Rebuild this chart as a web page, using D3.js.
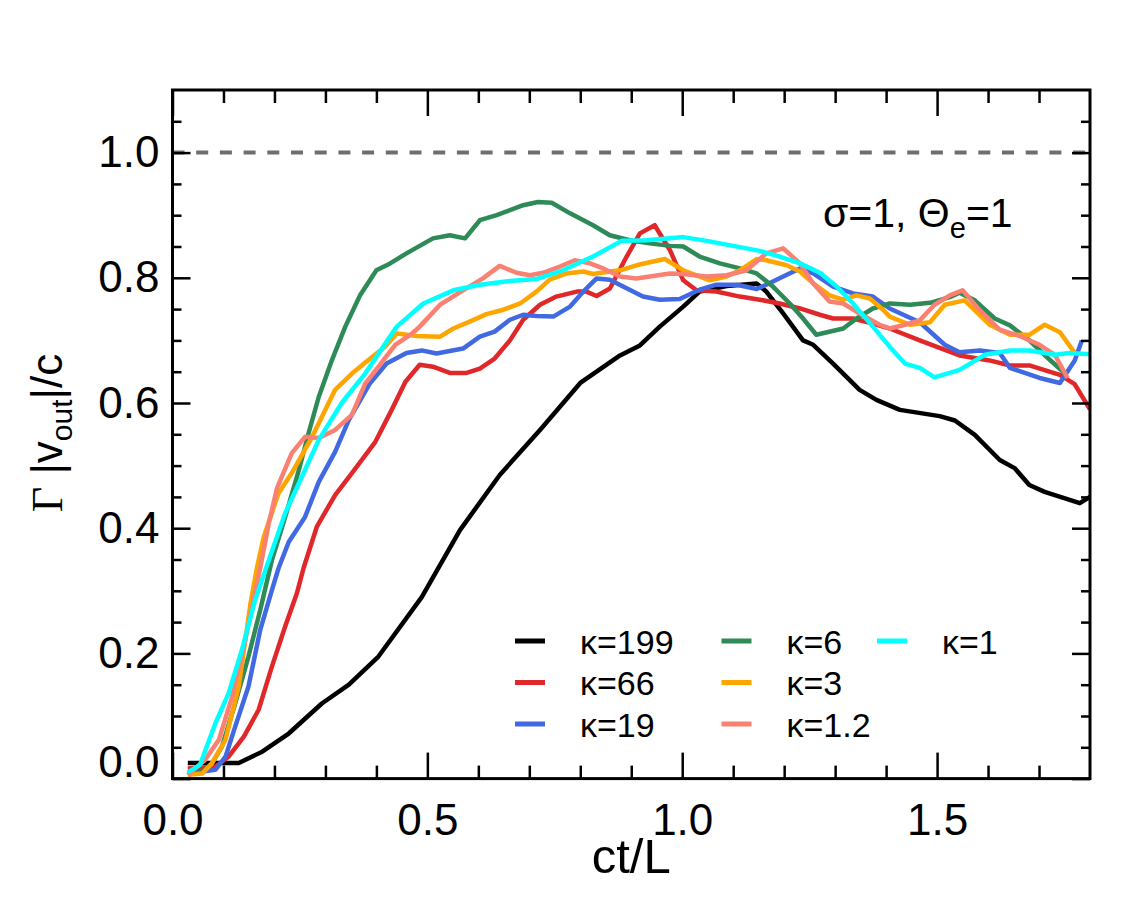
<!DOCTYPE html>
<html>
<head>
<meta charset="utf-8">
<script src="https://cdn.jsdelivr.net/npm/d3@7"></script>
<style>
  body { margin: 0; background: #fff; }
  text { font-family: "Liberation Sans", Helvetica, Arial, sans-serif; fill: #000; }
</style>
</head>
<body>
<svg id="chart" width="1146" height="917"></svg>
<script>
// curves: [ct/L, Gamma |v_out|/c]
const k199 = [[0.03,0.025],[0.13,0.025],[0.176,0.043],[0.228,0.072],[0.293,0.12],[0.346,0.15],[0.404,0.195],[0.489,0.29],[0.564,0.397],[0.642,0.485],[0.721,0.557],[0.80,0.632],[0.878,0.676],[0.917,0.692],[0.956,0.722],[1.002,0.754],[1.034,0.778],[1.087,0.787],[1.146,0.791],[1.165,0.778],[1.198,0.743],[1.237,0.70],[1.257,0.693],[1.296,0.663],[1.348,0.621],[1.381,0.605],[1.427,0.589],[1.505,0.579],[1.535,0.572],[1.574,0.549],[1.623,0.509],[1.652,0.496],[1.681,0.469],[1.711,0.458],[1.78,0.44],[1.8,0.45]];
const k66 = [[0.03,0.016],[0.084,0.019],[0.11,0.035],[0.14,0.067],[0.169,0.11],[0.195,0.179],[0.221,0.243],[0.244,0.296],[0.257,0.336],[0.283,0.402],[0.319,0.453],[0.352,0.488],[0.398,0.538],[0.43,0.589],[0.457,0.634],[0.485,0.661],[0.511,0.658],[0.544,0.648],[0.577,0.648],[0.603,0.655],[0.632,0.671],[0.662,0.70],[0.688,0.733],[0.721,0.757],[0.753,0.77],[0.793,0.778],[0.812,0.778],[0.832,0.771],[0.858,0.783],[0.891,0.834],[0.917,0.871],[0.946,0.884],[0.976,0.844],[1.002,0.796],[1.028,0.78],[1.067,0.778],[1.113,0.77],[1.152,0.765],[1.191,0.759],[1.231,0.751],[1.27,0.741],[1.296,0.735],[1.335,0.735],[1.374,0.727],[1.407,0.719],[1.466,0.70],[1.544,0.676],[1.603,0.668],[1.643,0.66],[1.681,0.66],[1.741,0.645],[1.77,0.63],[1.8,0.59]];
const k19 = [[0.03,0.008],[0.084,0.014],[0.104,0.035],[0.123,0.083],[0.149,0.147],[0.172,0.237],[0.195,0.301],[0.208,0.336],[0.228,0.378],[0.26,0.418],[0.287,0.474],[0.319,0.522],[0.346,0.573],[0.387,0.631],[0.42,0.663],[0.459,0.68],[0.489,0.684],[0.518,0.679],[0.57,0.687],[0.603,0.706],[0.632,0.714],[0.662,0.733],[0.688,0.741],[0.714,0.739],[0.747,0.738],[0.78,0.754],[0.806,0.778],[0.832,0.799],[0.858,0.797],[0.884,0.786],[0.923,0.77],[0.956,0.765],[0.995,0.766],[1.034,0.781],[1.067,0.789],[1.107,0.789],[1.146,0.782],[1.165,0.789],[1.198,0.802],[1.231,0.815],[1.257,0.807],[1.296,0.786],[1.335,0.775],[1.374,0.77],[1.407,0.751],[1.466,0.729],[1.515,0.693],[1.544,0.681],[1.584,0.684],[1.623,0.68],[1.643,0.656],[1.701,0.64],[1.741,0.632],[1.77,0.668],[1.784,0.70]];
const k6 = [[0.03,0.006],[0.058,0.011],[0.077,0.024],[0.097,0.051],[0.123,0.12],[0.149,0.195],[0.172,0.269],[0.195,0.349],[0.22,0.415],[0.248,0.493],[0.267,0.552],[0.287,0.61],[0.313,0.669],[0.339,0.722],[0.368,0.772],[0.4,0.812],[0.427,0.823],[0.459,0.839],[0.511,0.863],[0.544,0.868],[0.574,0.863],[0.603,0.892],[0.636,0.9],[0.688,0.916],[0.717,0.921],[0.744,0.92],[0.78,0.903],[0.825,0.884],[0.858,0.868],[0.897,0.86],[0.936,0.855],[0.976,0.851],[1.002,0.85],[1.034,0.834],[1.074,0.823],[1.113,0.815],[1.146,0.807],[1.178,0.786],[1.211,0.759],[1.237,0.735],[1.263,0.709],[1.316,0.719],[1.342,0.735],[1.374,0.751],[1.407,0.759],[1.447,0.757],[1.486,0.76],[1.525,0.769],[1.544,0.776],[1.574,0.764],[1.613,0.735],[1.643,0.724],[1.681,0.70],[1.721,0.669],[1.75,0.648]];
const k3 = [[0.03,0.006],[0.058,0.008],[0.077,0.024],[0.104,0.062],[0.13,0.147],[0.153,0.28],[0.166,0.338],[0.179,0.386],[0.208,0.456],[0.234,0.488],[0.274,0.546],[0.319,0.621],[0.352,0.647],[0.385,0.669],[0.417,0.69],[0.44,0.711],[0.479,0.707],[0.525,0.706],[0.551,0.719],[0.583,0.73],[0.616,0.742],[0.649,0.749],[0.682,0.759],[0.714,0.778],[0.74,0.797],[0.773,0.807],[0.806,0.81],[0.825,0.806],[0.858,0.81],[0.878,0.812],[0.91,0.82],[0.943,0.826],[0.966,0.83],[1.002,0.812],[1.054,0.796],[1.087,0.802],[1.113,0.812],[1.146,0.83],[1.165,0.828],[1.205,0.82],[1.231,0.81],[1.257,0.791],[1.289,0.772],[1.316,0.765],[1.342,0.772],[1.368,0.767],[1.394,0.749],[1.407,0.738],[1.447,0.725],[1.486,0.729],[1.515,0.757],[1.554,0.764],[1.603,0.725],[1.643,0.709],[1.681,0.709],[1.711,0.725],[1.741,0.713],[1.77,0.68]];
const k1p2 = [[0.03,0.006],[0.064,0.03],[0.091,0.062],[0.117,0.131],[0.14,0.211],[0.159,0.285],[0.172,0.336],[0.189,0.408],[0.205,0.464],[0.234,0.52],[0.26,0.546],[0.287,0.544],[0.319,0.557],[0.352,0.581],[0.378,0.631],[0.404,0.658],[0.437,0.693],[0.47,0.711],[0.485,0.722],[0.525,0.757],[0.57,0.78],[0.609,0.799],[0.642,0.819],[0.675,0.808],[0.701,0.804],[0.727,0.808],[0.76,0.818],[0.789,0.828],[0.819,0.823],[0.845,0.815],[0.878,0.802],[0.91,0.799],[0.943,0.803],[0.976,0.807],[1.002,0.806],[1.048,0.802],[1.087,0.804],[1.126,0.812],[1.165,0.839],[1.198,0.847],[1.231,0.823],[1.257,0.791],[1.289,0.762],[1.316,0.759],[1.348,0.743],[1.387,0.725],[1.407,0.719],[1.437,0.725],[1.466,0.732],[1.495,0.757],[1.525,0.772],[1.55,0.78],[1.584,0.748],[1.623,0.717],[1.662,0.707],[1.701,0.693],[1.731,0.677],[1.756,0.64]];
const k1 = [[0.03,0.01],[0.054,0.022],[0.084,0.088],[0.11,0.136],[0.136,0.205],[0.162,0.285],[0.189,0.349],[0.221,0.424],[0.26,0.493],[0.287,0.541],[0.332,0.6],[0.378,0.647],[0.44,0.722],[0.492,0.759],[0.551,0.78],[0.603,0.789],[0.662,0.795],[0.714,0.798],[0.766,0.812],[0.825,0.834],[0.881,0.859],[0.93,0.86],[0.976,0.863],[1.002,0.865],[1.048,0.859],[1.1,0.851],[1.152,0.843],[1.191,0.834],[1.231,0.823],[1.27,0.808],[1.303,0.786],[1.335,0.759],[1.374,0.722],[1.407,0.69],[1.437,0.663],[1.466,0.656],[1.495,0.641],[1.544,0.653],[1.594,0.677],[1.643,0.684],[1.681,0.684],[1.731,0.677],[1.76,0.68],[1.8,0.678]];

const labels = ["κ=199", "κ=66", "κ=19", "κ=6", "κ=3", "κ=1.2", "κ=1"];
const colors = ["#000000", "#e0282a", "#4169e1", "#2e8b57", "#ffa500", "#fa8072", "#00ffff"];
const series = [k199, k66, k19, k6, k3, k1p2, k1];

const xMajor = [0, 0.5, 1.0, 1.5];
const xMinor = [0.1, 0.2, 0.3, 0.4, 0.6, 0.7, 0.8, 0.9, 1.1, 1.2, 1.3, 1.4, 1.6, 1.7];
const yMajor = [0, 0.2, 0.4, 0.6, 0.8, 1.0];
const yMinor = [0.05, 0.1, 0.15, 0.25, 0.3, 0.35, 0.45, 0.5, 0.55, 0.65, 0.7, 0.75, 0.85, 0.9, 0.95, 1.05];

const margin = {top: 90, left: 172.5, right: 56, bottom: 138.4};
const W = 1146, H = 917;
const width = W - margin.left - margin.right;
const height = H - margin.top - margin.bottom;

const svg = d3.select("#chart");
const g = svg.append("g").attr("transform", `translate(${margin.left},${margin.top})`);

const x = d3.scaleLinear().domain([0, 1.8]).range([0, width]);
const y = d3.scaleLinear().domain([0, 1.1]).range([height, 0]);

svg.append("defs").append("clipPath").attr("id", "clip")
  .append("rect").attr("width", width).attr("height", height);

// reference line at 1
g.append("line")
  .attr("x1", 0).attr("x2", width).attr("y1", y(1)).attr("y2", y(1))
  .attr("stroke", "#6e6e6e").attr("stroke-width", 4).attr("stroke-dasharray", "12,11.7");

const line = d3.line().x(d => x(d[0])).y(d => y(d[1]));
const plot = g.append("g").attr("clip-path", "url(#clip)");
series.forEach((s, i) => {
  plot.append("path").datum(s)
    .attr("d", line)
    .attr("fill", "none")
    .attr("stroke", colors[i])
    .attr("stroke-width", 4.5)
    .attr("stroke-linejoin", "round");
});

// ticks on all four sides, pointing inward
function styleAxis(sel) {
  sel.select(".domain").remove();
  sel.selectAll("line").attr("stroke", "#000").attr("stroke-width", 2.5);
  sel.selectAll("text").style("font-size", "44px").style("font-family", "'Liberation Sans', Helvetica, Arial, sans-serif");
}
g.append("g").attr("transform", `translate(0,${height})`)
  .call(d3.axisBottom(x).tickValues(xMajor).tickSizeInner(-26).tickSizeOuter(0).tickPadding(25).tickFormat(d3.format(".1f")))
  .call(styleAxis);
g.append("g").attr("transform", `translate(0,${height})`)
  .call(d3.axisBottom(x).tickValues(xMinor).tickSizeInner(-13).tickSizeOuter(0).tickFormat(""))
  .call(styleAxis);
g.append("g")
  .call(d3.axisTop(x).tickValues(xMajor).tickSizeInner(-26).tickSizeOuter(0).tickFormat(""))
  .call(styleAxis);
g.append("g")
  .call(d3.axisTop(x).tickValues(xMinor).tickSizeInner(-13).tickSizeOuter(0).tickFormat(""))
  .call(styleAxis);

const yAx = g.append("g")
  .call(d3.axisLeft(y).tickValues(yMajor).tickSizeInner(-18).tickSizeOuter(0).tickPadding(13).tickFormat(d3.format(".1f")))
  .call(styleAxis);
yAx.selectAll(".tick").filter(d => d === 0).select("text").attr("dy", "-0.05em");
g.append("g")
  .call(d3.axisLeft(y).tickValues(yMinor).tickSizeInner(-9).tickSizeOuter(0).tickFormat(""))
  .call(styleAxis);
g.append("g").attr("transform", `translate(${width},0)`)
  .call(d3.axisRight(y).tickValues(yMajor).tickSizeInner(-18).tickSizeOuter(0).tickFormat(""))
  .call(styleAxis);
g.append("g").attr("transform", `translate(${width},0)`)
  .call(d3.axisRight(y).tickValues(yMinor).tickSizeInner(-9).tickSizeOuter(0).tickFormat(""))
  .call(styleAxis);

// frame
g.append("rect").attr("width", width).attr("height", height)
  .attr("fill", "none").attr("stroke", "#000").attr("stroke-width", 3);

// axis titles
svg.append("text").attr("x", margin.left + width / 2).attr("y", 873)
  .attr("text-anchor", "middle").style("font-size", "49px").text("ct/L");

const yt = svg.append("text")
  .attr("transform", "translate(62,433) rotate(-90)")
  .attr("text-anchor", "middle").style("font-size", "44px");
yt.append("tspan").style("font-family", "'Liberation Serif', 'Times New Roman', serif").text("Γ");
yt.append("tspan").text(" |v");
yt.append("tspan").attr("dy", 10).style("font-size", "30px").text("out");
yt.append("tspan").attr("dy", -10).text("|/c");

// annotation
const ann = svg.append("text").attr("x", 823).attr("y", 227).style("font-size", "41px");
ann.append("tspan").text("σ=1, Θ");
ann.append("tspan").attr("dy", 11).style("font-size", "29px").text("e");
ann.append("tspan").attr("dy", -11).text("=1");

// legend, three columns
const legX = [515, 721.5, 877];
const legY = [641, 682.5, 724];
labels.forEach((lab, i) => {
  const col = Math.floor(i / 3), row = i % 3;
  svg.append("line")
    .attr("x1", legX[col]).attr("x2", legX[col] + 30)
    .attr("y1", legY[row]).attr("y2", legY[row])
    .attr("stroke", colors[i]).attr("stroke-width", 5);
  svg.append("text")
    .attr("x", legX[col] + 65).attr("y", legY[row] + 12.5)
    .style("font-size", "34px").text(lab);
});
</script>
</body>
</html>
